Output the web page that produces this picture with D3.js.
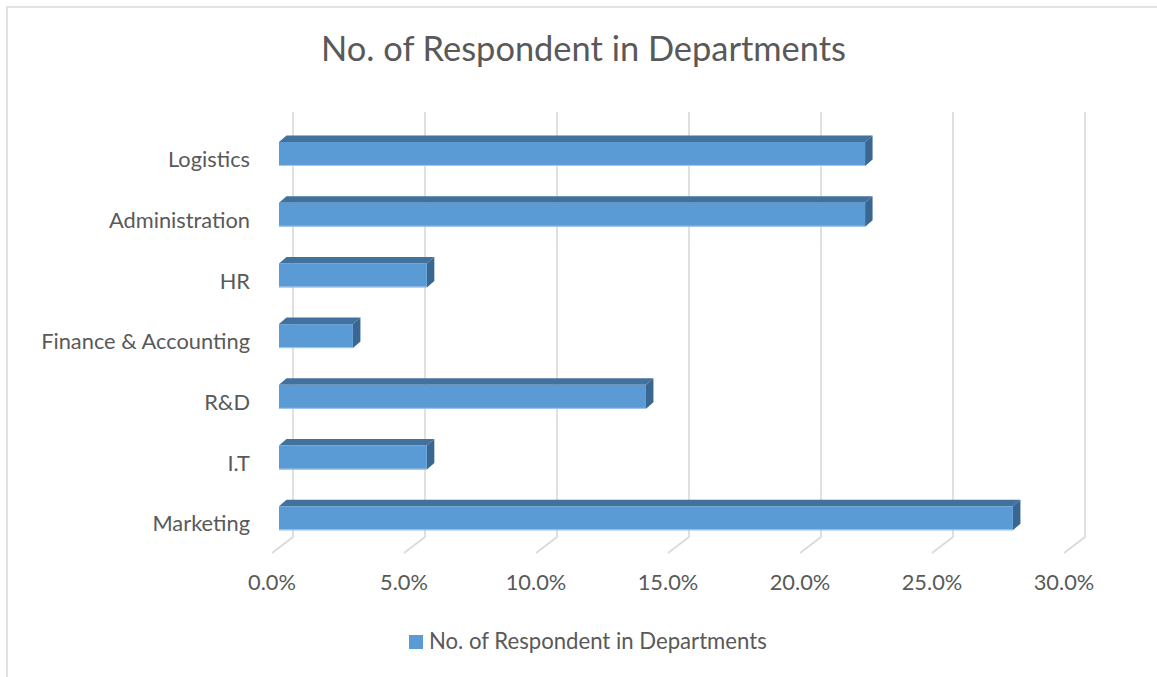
<!DOCTYPE html>
<html>
<head>
<meta charset="utf-8">
<script src="https://cdn.jsdelivr.net/npm/d3@7"></script>
<style>
  html, body { margin: 0; padding: 0; background: #fff; }
  svg { display: block; }
  text { font-family: Lato, "Open Sans", sans-serif; fill: #595959; }
</style>
</head>
<body>
<svg id="chart" width="1157" height="677"></svg>
<script>
// ---- data ----
const title = "No. of Respondent in Departments";
const categories = ["Logistics", "Administration", "HR", "Finance & Accounting", "R&D", "I.T", "Marketing"];
const values = [22.2, 22.2, 5.6, 2.8, 13.9, 5.6, 27.8]; // percent
const tickValues = [0, 5, 10, 15, 20, 25, 30];
const seriesName = "No. of Respondent in Departments";

// ---- layout ----
const svg = d3.select("#chart");
const W = 1157, H = 677;

const x = d3.scaleLinear().domain([0, 30]).range([293, 1085]); // back plane
const y = d3.scaleBand().domain(categories).range([112, 537]).padding(0);

const floorDx = -21, floorDy = 16;   // back -> front of floor
const barFx = -14, barFy = 11.6;     // back -> front face of bar
const depthDx = 7.5, depthDy = -6.5; // bar depth
const barH = 24;

const colFront = "#5b9bd5", colTop = "#41719c", colSide = "#3a6792";
const gridCol = "#d9d9d9";

// chart border
svg.append("rect").attr("x", 7).attr("y", 7).attr("width", W + 10).attr("height", H + 10)
  .attr("fill", "#fff").attr("stroke", gridCol).attr("stroke-width", 1.5);

function fitFont(sel, target, base) {
  sel.style("font-size", base + "px");
  const w = sel.node().getComputedTextLength();
  sel.style("font-size", (base * target / w) + "px");
}

// title
const t = svg.append("text").attr("x", 583.5).attr("y", 61).attr("text-anchor", "middle").text(title);
fitFont(t, 525, 30);

// gridlines (back wall + floor)
const grid = svg.append("g");
tickValues.forEach(v => {
  const gx = x(v);
  grid.append("path")
    .attr("d", `M${gx},${y.range()[0]} L${gx},${y.range()[1]} L${gx + floorDx},${y.range()[1] + floorDy}`)
    .attr("fill", "none").attr("stroke", gridCol).attr("stroke-width", 1.6);
});

// category labels
const catG = svg.append("g");
const probe = catG.append("text").style("font-size", "20px").text("Finance & Accounting");
const fw = probe.node().getComputedTextLength();
probe.remove();
const catSize = 20 * 209 / fw;
categories.forEach(c => {
  catG.append("text")
    .attr("x", 250).attr("y", y(c) + y.bandwidth() / 2 + 24.8)
    .attr("text-anchor", "end").style("font-size", catSize + "px").text(c);
});

// tick labels
const fmt = d3.format(".1f");
tickValues.forEach(v => {
  svg.append("text")
    .attr("x", x(v) + floorDx).attr("y", 589.5)
    .attr("text-anchor", "middle").style("font-size", catSize + "px").text(fmt(v) + "%");
});

// bars
const bars = svg.append("g");
categories.forEach((c, i) => {
  const v = values[i];
  const x0 = x(0) + barFx, x1 = x(v) + barFx;
  const yc = y(c) + y.bandwidth() / 2 + barFy;
  const yt = yc - barH / 2, yb = yc + barH / 2;
  // top face
  bars.append("polygon")
    .attr("points", [[x0, yt], [x0 + depthDx, yt + depthDy], [x1 + depthDx, yt + depthDy], [x1, yt]].map(p => p.join(",")).join(" "))
    .attr("fill", colTop);
  // side face
  bars.append("polygon")
    .attr("points", [[x1, yt], [x1 + depthDx, yt + depthDy], [x1 + depthDx, yb + depthDy], [x1, yb]].map(p => p.join(",")).join(" "))
    .attr("fill", colSide);
  // front face
  bars.append("rect")
    .attr("x", x0).attr("y", yt).attr("width", x1 - x0).attr("height", barH)
    .attr("fill", colFront);
  bars.append("line")
    .attr("x1", x0).attr("x2", x1).attr("y1", yb - 0.5).attr("y2", yb - 0.5)
    .attr("stroke", "#a9c8e8").attr("stroke-width", 1);
});

// legend
svg.append("rect").attr("x", 409).attr("y", 635).attr("width", 14).attr("height", 14).attr("fill", colFront);
const lg = svg.append("text").attr("x", 429).attr("y", 648.5).text(seriesName);
fitFont(lg, 338, 20);
</script>
</body>
</html>
